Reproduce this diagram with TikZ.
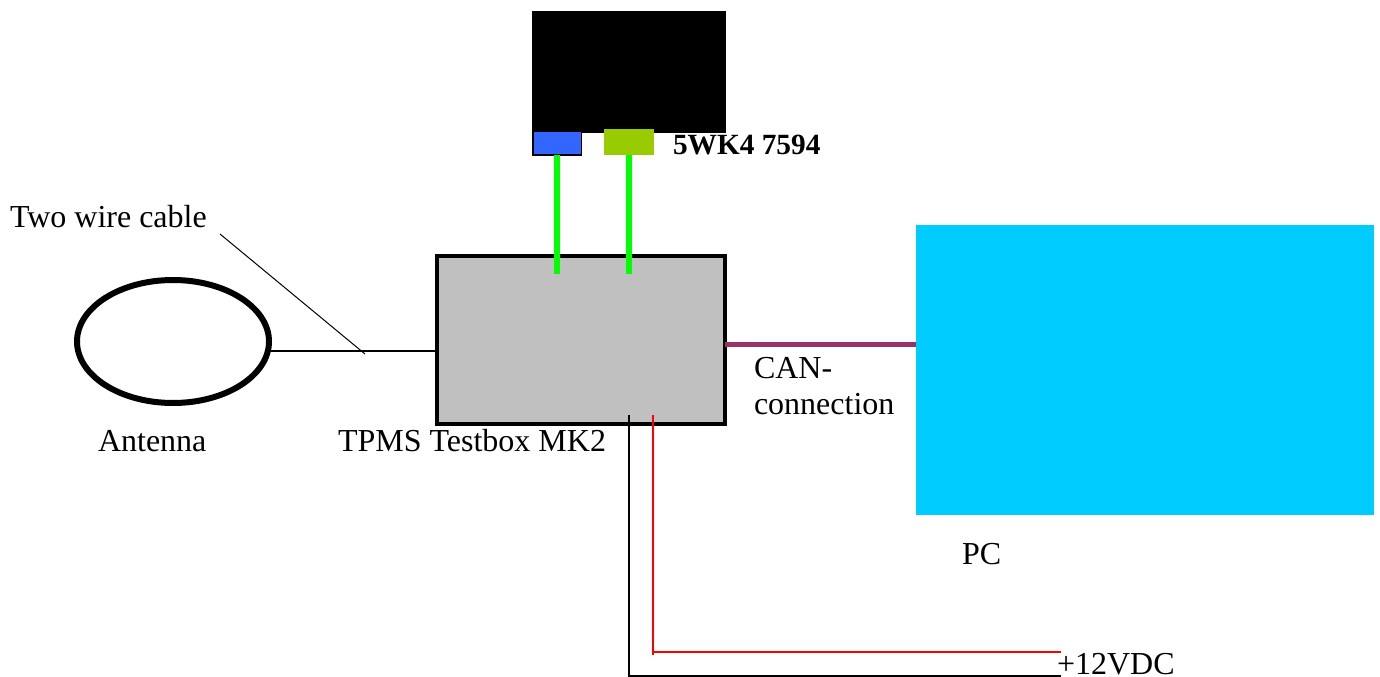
\documentclass[tikz,border=0pt]{standalone}
\usepackage{fontspec}
\setmainfont{Liberation Serif}
\usetikzlibrary{calc,shapes.geometric}
\definecolor{bluebox}{HTML}{3366FF}
\definecolor{olivebox}{HTML}{99CC00}
\definecolor{graybox}{HTML}{C0C0C0}
\definecolor{pcblue}{HTML}{00CCFF}
\definecolor{wiregreen}{HTML}{00FF00}
\definecolor{canline}{HTML}{993366}
\tikzset{
  px/.style={x=0.75pt,y=-0.75pt},
  boxbase/.style={rectangle,inner sep=0pt,outer sep=0pt,anchor=north west},
  lbl/.style={inner sep=0pt,outer sep=0pt,anchor=base west,font=\fontsize{24}{28}\selectfont},
  boldlbl/.style={lbl,font=\fontsize{22}{26}\selectfont\bfseries},
  greenwire/.style={draw=wiregreen,line width=4.5pt},
  thinwire/.style={draw=black,line width=1.5pt},
  redwire/.style={draw=red,line width=1.5pt},
  leader/.style={draw=black,line width=0.75pt},
  canwire/.style={draw=canline,line width=3.75pt},
}
\begin{document}
\begin{tikzpicture}[px]
\useasboundingbox (0,0) rectangle (1380,677);
% module
\node[boxbase,fill=black,minimum width=145.5pt,minimum height=91.5pt] (module) at (532,11) {};
\node[boxbase,fill=bluebox,draw=black,line width=1pt,minimum width=36.5pt,minimum height=18pt] (blue) at (533,131) {};
\node[boxbase,fill=olivebox,minimum width=37.5pt,minimum height=19.5pt] (olive) at (604,129) {};
% testbox
\node[boxbase,fill=graybox,draw=black,line width=3pt,minimum width=216pt,minimum height=126pt] (box) at (437,256) {};
% antenna
\node[draw=black,ellipse,line width=4.5pt,inner sep=0pt,outer sep=0pt,minimum width=144pt,minimum height=92.25pt] (ant) at (173,341.5) {};
% PC
\node[boxbase,fill=pcblue,minimum width=343.5pt,minimum height=217.5pt] (pc) at (916,225) {};
% labels
\node[lbl] (twl) at (10,228) {Two wire cable};
\node[lbl] (antl) at (98,451) {Antenna};
\node[lbl] (tpms) at (338,451) {TPMS Testbox MK2};
\node[lbl] (can1) at (754,378) {CAN-};
\node[lbl] (can2) at (754,414) {connection};
\node[lbl] (pcl) at (962,564) {PC};
\node[lbl] (vdc) at (1057,674) {+12VDC};
\node[boldlbl] (wk) at (673,155) {5WK4 7594};
% connectors
\coordinate (g1) at (557,274);
\coordinate (g2) at (629,274);
\draw[greenwire] (blue.south) -- (blue.south |- g1);
\draw[greenwire] (olive.south) -- (olive.south |- g2);
\coordinate (antR) at (268,351);
\draw[thinwire] (antR) -- (antR -| box.west);
\coordinate (leadA) at (220,234);
\coordinate (leadB) at (365,354);
\draw[leader] (leadA) -- (leadB);
\coordinate (canA) at (725,344);
\draw[canwire] (canA) -- (canA -| pc.west);
\coordinate (bTop) at (629,415);
\coordinate (bEnd) at (1061,676);
\draw[thinwire] (bTop) -- (bTop |- bEnd) -- (bEnd);
\coordinate (rTop) at (653,415);
\coordinate (rBot) at (653,655);
\coordinate (rEnd) at (1061,652);
\draw[redwire] (rTop) -- (rBot);
\draw[redwire] (rEnd -| rTop) -- (rEnd);
\end{tikzpicture}
\end{document}
